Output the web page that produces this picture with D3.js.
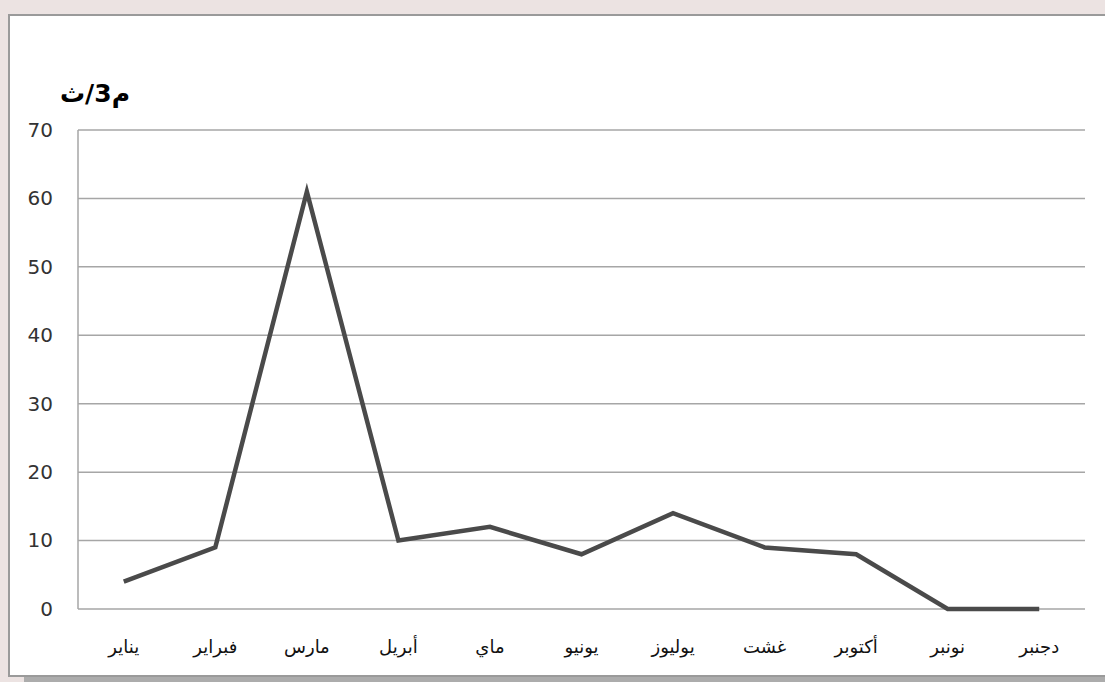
<!DOCTYPE html>
<html>
<head>
<meta charset="utf-8">
<script src="https://cdn.jsdelivr.net/npm/d3@7"></script>
<style>
  body { margin: 0; background: #ece3e2; }
  svg { display: block; }
</style>
</head>
<body>
<script>
// chart data
const months = ["يناير", "فبراير", "مارس", "أبريل", "ماي", "يونيو", "يوليوز", "غشت", "أكتوبر", "نونبر", "دجنبر"];
const flow = [4, 9, 61, 10, 12, 8, 14, 9, 8, 0, 0];
const yTicks = [0, 10, 20, 30, 40, 50, 60, 70];
const unitLabel = "م3/ث";

const svgWidth = 1105;
const svgHeight = 682;

const svg = d3.select("body")
              .append("svg")
              .attr("width", svgWidth)
              .attr("height", svgHeight);

// shadow + white frame
svg.append("rect")
   .attr("x", 24).attr("y", 20)
   .attr("width", 1200).attr("height", 662)
   .attr("fill", "#acacac");

svg.append("rect")
   .attr("x", 9).attr("y", 15)
   .attr("width", 1200).attr("height", 661)
   .attr("fill", "#fff")
   .attr("stroke", "#9a9a9a")
   .attr("stroke-width", 2);

const plot = { left: 78, right: 1085, top: 130, bottom: 609 };

const x = d3.scaleBand()
            .domain(months)
            .range([plot.left, plot.right]);

const y = d3.scaleLinear()
            .domain([0, 70])
            .range([plot.bottom, plot.top]);

// gridlines
svg.append("g")
   .selectAll("line")
   .data(yTicks)
   .enter()
   .append("line")
   .attr("x1", plot.left)
   .attr("x2", plot.right)
   .attr("y1", d => y(d))
   .attr("y2", d => y(d))
   .attr("stroke", "#a6a6a6")
   .attr("stroke-width", 1.5);

svg.append("line")
   .attr("x1", plot.left).attr("x2", plot.left)
   .attr("y1", plot.top).attr("y2", plot.bottom)
   .attr("stroke", "#a6a6a6")
   .attr("stroke-width", 1.5);

// y axis labels
const yAxis = svg.append("g")
                 .attr("transform", `translate(${plot.left},0)`)
                 .call(d3.axisLeft(y).tickValues(yTicks).tickSize(0).tickPadding(25));
yAxis.select(".domain").remove();
yAxis.selectAll("text")
     .attr("font-family", "DejaVu Sans")
     .attr("font-size", 20)
     .attr("fill", "#333");

// x axis labels
const xAxis = svg.append("g")
                 .attr("transform", `translate(0,${plot.bottom})`)
                 .call(d3.axisBottom(x).tickSize(0).tickPadding(31));
xAxis.select(".domain").remove();
xAxis.selectAll("text")
     .attr("font-family", "DejaVu Sans")
     .attr("font-size", 18)
     .attr("fill", "#111");

// unit label
svg.append("text")
   .attr("x", 95)
   .attr("y", 102)
   .attr("text-anchor", "middle")
   .attr("font-family", "DejaVu Sans")
   .attr("font-weight", "bold")
   .attr("font-size", 25)
   .attr("fill", "#000")
   .text(unitLabel);

// the line
const line = d3.line()
               .x((d, i) => x(months[i]) + x.bandwidth() / 2)
               .y(d => y(d));

svg.append("path")
   .datum(flow)
   .attr("d", line)
   .attr("fill", "none")
   .attr("stroke", "#4a4a4a")
   .attr("stroke-width", 4.5)
   .attr("stroke-linejoin", "miter");
</script>
</body>
</html>
